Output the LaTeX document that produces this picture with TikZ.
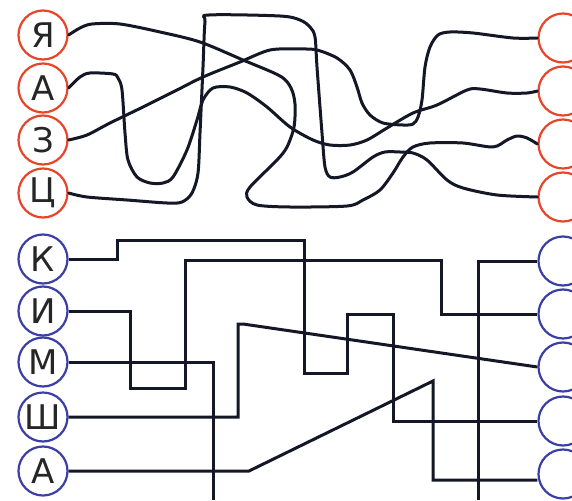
\documentclass[tikz,border=0pt]{standalone}
\usepackage{fontspec}
\setmainfont{DejaVu Sans}
\definecolor{cred}{HTML}{E8442A}
\definecolor{cblue}{HTML}{3B3FA5}
\definecolor{cline}{HTML}{141726}
\begin{document}
\begin{tikzpicture}[x=1pt,y=-1pt,
  rc/.style={circle,draw=cred,line width=2.2pt,minimum size=49pt,inner sep=0pt,font=\fontsize{34}{34}\selectfont,text=black!85},
  bc/.style={circle,draw=cblue,line width=2.2pt,minimum size=49pt,inner sep=0pt,font=\fontsize{34}{34}\selectfont,text=black!85},
  wire/.style={draw=cline,line width=3pt,line join=round,line cap=round},
  bwire/.style={draw=cline,line width=3pt,line join=miter}]
\fill[white] (0,0) rectangle (572,500);
\useasboundingbox (0,0) rectangle (572,500);
% red nodes
\node[rc] (LYa) at (43,35) {Я};
\node[rc] (LA)  at (43,88) {А};
\node[rc] (LZe) at (43,140) {З};
\node[rc] (LTs) at (43,193) {Ц};
\node[rc] (R1) at (563,38) {};
\node[rc] (R2) at (563,91) {};
\node[rc] (R3) at (563,144) {};
\node[rc] (R4) at (563,197) {};
% blue nodes
\node[bc] (LK)  at (43,259) {К};
\node[bc] (LI)  at (43,311) {И};
\node[bc] (LM)  at (43,362) {М};
\node[bc] (LSh) at (43,417) {Ш};
\node[bc] (LA2) at (43,471) {А};
\node[bc] (B1) at (563,261) {};
\node[bc] (B2) at (563,314) {};
\node[bc] (B3) at (563,367) {};
\node[bc] (B4) at (563,421) {};
\node[bc] (B5) at (563,474) {};
\coordinate (mEnd) at (213,500);
\coordinate (bEnd) at (478,500);
% red curves
\draw[wire] plot[smooth,tension=0.5] coordinates {(LYa.east) (80,28) (92,24) (120,24) (160,32) (200,42) (243,60) (280,76) (291,88) (295,104) (294,127) (287,147) (277,160) (250,187) (247,197) (257,205) (290,207) (347,206) (363,200) (380,190) (393,173) (403,157) (413,147) (430,143) (463,143) (493,147) (507,140) (517,136) (527,138) (R3.west)};
\draw[wire] plot[smooth,tension=0.5] coordinates {(LA.east) (80,77) (90,73) (113,74) (118,78) (122,90) (125,133) (128,160) (137,177) (150,183) (163,183) (173,177) (187,150) (197,120) (203,100) (213,88) (230,87) (247,93) (267,107) (290,127) (313,140) (330,145) (350,145) (367,140) (387,128) (413,113) (437,105) (467,90) (480,89) (507,93) (527,93) (R2.west)};
\draw[wire] plot[smooth,tension=0.5] coordinates {(LZe.east) (87,135) (110,123) (143,107) (177,90) (203,77) (240,62) (270,50) (300,49) (317,50) (337,58) (350,70) (357,87) (362,103) (370,115) (383,123) (403,125) (413,124) (418,117) (422,100) (425,67) (430,47) (438,35) (450,32) (473,33) (513,38) (R1.west)};
\draw[wire] plot[smooth,tension=0.5] coordinates {(LTs.east) (87,197) (127,200) (167,203) (182,202) (192,193) (198,173) (200,133) (203,67) (205,22) (209,15) (280,16) (300,20) (310,27) (315,37) (317,67) (322,133) (325,167) (330,177) (340,177) (353,172) (373,157) (385,152) (400,152) (413,153) (427,160) (447,180) (463,188) (497,195) (R4.west)};
% blue wires
\draw[bwire] (LK.east) -| (117,240) -- (304,240) |- (347,373) |- (393,314) |- (B4.west);
\draw[bwire] (LI.east) -| (130,388) -| (185,260) -- (441,260) |- (B2.west);
\draw[bwire] (LM.east) -| (mEnd);
\draw[bwire] (B1.west) -| (bEnd);
\draw[bwire] (LSh.east) -| (238,324) -- (243,324) -- (B3.west);
\draw[bwire] (LA2.east) -- (249,471) -- (433,381) -- (433,480) -- (B5.west |- 0,480);
\end{tikzpicture}
\end{document}
